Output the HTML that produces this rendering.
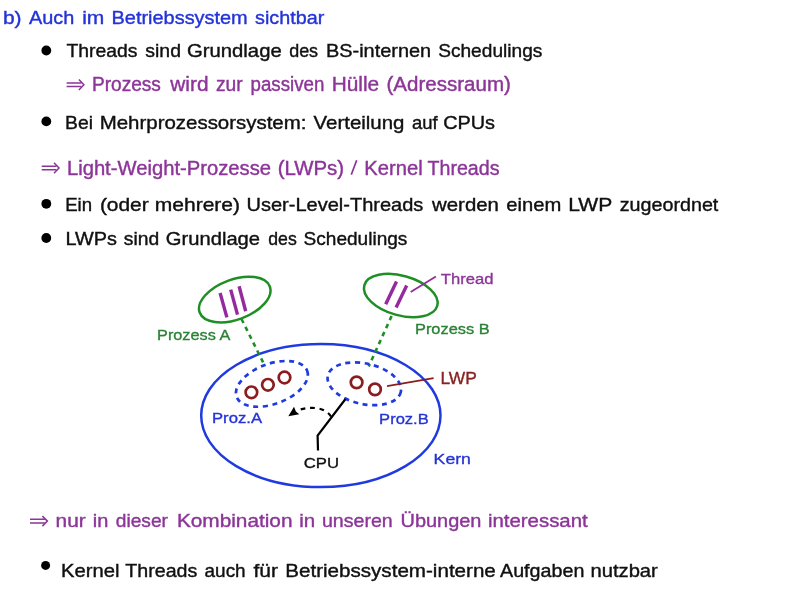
<!DOCTYPE html>
<html><head><meta charset="utf-8">
<style>
html,body{margin:0;padding:0;background:#fff;width:792px;height:600px;overflow:hidden}
svg{display:block;will-change:transform}
text{font-family:"Liberation Sans",sans-serif;stroke-width:0.4px}
.blue{fill:#2433d8;stroke:#2433d8}
.blk{fill:#101010;stroke:#101010}
.pur{fill:#8c3598;stroke:#8c3598}
.grn{fill:#2a8236;stroke:#2a8236}
.red{fill:#8a2222;stroke:#8a2222}
text.lab{stroke-width:0.35px}
</style></head><body>
<svg width="792" height="600" viewBox="0 0 792 600">
<g fill="#000">
<circle cx="46.3" cy="50.5" r="4.9"/>
<circle cx="46.3" cy="121.4" r="4.9"/>
<circle cx="46.3" cy="203.8" r="4.9"/>
<circle cx="46.3" cy="238" r="4.9"/>
<circle cx="45.6" cy="565.4" r="4.5"/>
</g>
<g fill="none" stroke="#8c3598" stroke-width="1.5" stroke-linecap="butt" stroke-linejoin="miter"><path d="M66.60,82.90H81.40M66.60,86.50H81.40"/><path d="M78.90,79.50L83.90,84.70L78.90,89.90"/></g>
<g fill="none" stroke="#8c3598" stroke-width="1.5" stroke-linecap="butt" stroke-linejoin="miter"><path d="M41.70,166.20H56.50M41.70,169.80H56.50"/><path d="M54.00,162.80L59.00,168.00L54.00,173.20"/></g>
<g fill="none" stroke="#8c3598" stroke-width="1.5" stroke-linecap="butt" stroke-linejoin="miter"><path d="M30.00,519.30H44.90M30.00,522.90H44.90"/><path d="M42.40,516.10L47.40,521.10L42.40,526.10"/></g>
<line x1="351.3" y1="174.6" x2="356.7" y2="160.2" stroke="#8c3598" stroke-width="1.7"/>
<text class="blue" x="2.91" y="23.6" font-size="19" textLength="18.68" lengthAdjust="spacingAndGlyphs">b)</text>
<text class="blue" x="29.00" y="23.6" font-size="19" textLength="45.33" lengthAdjust="spacingAndGlyphs">Auch</text>
<text class="blue" x="82.15" y="23.6" font-size="19" textLength="22.17" lengthAdjust="spacingAndGlyphs">im</text>
<text class="blue" x="111.55" y="23.6" font-size="19" textLength="136.17" lengthAdjust="spacingAndGlyphs">Betriebssystem</text>
<text class="blue" x="255.05" y="23.6" font-size="19" textLength="69.21" lengthAdjust="spacingAndGlyphs">sichtbar</text>
<text class="blk" x="66.45" y="56.5" font-size="19" textLength="71.00" lengthAdjust="spacingAndGlyphs">Threads</text>
<text class="blk" x="145.30" y="56.5" font-size="19" textLength="35.68" lengthAdjust="spacingAndGlyphs">sind</text>
<text class="blk" x="186.98" y="56.5" font-size="19" textLength="94.75" lengthAdjust="spacingAndGlyphs">Grundlage</text>
<text class="blk" x="289.15" y="56.5" font-size="19" textLength="28.96" lengthAdjust="spacingAndGlyphs">des</text>
<text class="blk" x="326.00" y="56.5" font-size="19" textLength="105.11" lengthAdjust="spacingAndGlyphs">BS-internen</text>
<text class="blk" x="438.19" y="56.5" font-size="19" textLength="104.14" lengthAdjust="spacingAndGlyphs">Schedulings</text>
<text class="pur" x="91.92" y="90.6" font-size="19.5" textLength="69.02" lengthAdjust="spacingAndGlyphs">Prozess</text>
<text class="pur" x="170.33" y="90.6" font-size="19.5" textLength="38.16" lengthAdjust="spacingAndGlyphs">wird</text>
<text class="pur" x="216.00" y="90.6" font-size="19.5" textLength="26.69" lengthAdjust="spacingAndGlyphs">zur</text>
<text class="pur" x="250.59" y="90.6" font-size="19.5" textLength="73.79" lengthAdjust="spacingAndGlyphs">passiven</text>
<text class="pur" x="331.69" y="90.6" font-size="19.5" textLength="47.42" lengthAdjust="spacingAndGlyphs">Hülle</text>
<text class="pur" x="386.50" y="90.6" font-size="19.5" textLength="124.32" lengthAdjust="spacingAndGlyphs">(Adressraum)</text>
<text class="blk" x="65.08" y="128.8" font-size="19" textLength="27.89" lengthAdjust="spacingAndGlyphs">Bei</text>
<text class="blk" x="99.72" y="128.8" font-size="19" textLength="206.74" lengthAdjust="spacingAndGlyphs">Mehrprozessorsystem:</text>
<text class="blk" x="313.55" y="128.8" font-size="19" textLength="90.85" lengthAdjust="spacingAndGlyphs">Verteilung</text>
<text class="blk" x="411.90" y="128.8" font-size="19" textLength="25.64" lengthAdjust="spacingAndGlyphs">auf</text>
<text class="blk" x="443.15" y="128.8" font-size="19" textLength="51.90" lengthAdjust="spacingAndGlyphs">CPUs</text>
<text class="pur" x="66.91" y="174.5" font-size="19.5" textLength="204.08" lengthAdjust="spacingAndGlyphs">Light-Weight-Prozesse</text>
<text class="pur" x="277.65" y="174.5" font-size="19.5" textLength="66.42" lengthAdjust="spacingAndGlyphs">(LWPs)</text>
<text class="pur" x="364.32" y="174.5" font-size="19.5" textLength="58.32" lengthAdjust="spacingAndGlyphs">Kernel</text>
<text class="pur" x="427.50" y="174.5" font-size="19.5" textLength="71.95" lengthAdjust="spacingAndGlyphs">Threads</text>
<text class="blk" x="65.17" y="210.5" font-size="19" textLength="26.94" lengthAdjust="spacingAndGlyphs">Ein</text>
<text class="blk" x="99.90" y="210.5" font-size="19" textLength="48.80" lengthAdjust="spacingAndGlyphs">(oder</text>
<text class="blk" x="154.84" y="210.5" font-size="19" textLength="85.20" lengthAdjust="spacingAndGlyphs">mehrere)</text>
<text class="blk" x="246.45" y="210.5" font-size="19" textLength="176.96" lengthAdjust="spacingAndGlyphs">User-Level-Threads</text>
<text class="blk" x="432.05" y="210.5" font-size="19" textLength="66.85" lengthAdjust="spacingAndGlyphs">werden</text>
<text class="blk" x="506.30" y="210.5" font-size="19" textLength="55.00" lengthAdjust="spacingAndGlyphs">einem</text>
<text class="blk" x="568.21" y="210.5" font-size="19" textLength="44.12" lengthAdjust="spacingAndGlyphs">LWP</text>
<text class="blk" x="619.75" y="210.5" font-size="19" textLength="98.58" lengthAdjust="spacingAndGlyphs">zugeordnet</text>
<text class="blk" x="65.51" y="245" font-size="19" textLength="51.42" lengthAdjust="spacingAndGlyphs">LWPs</text>
<text class="blk" x="123.85" y="245" font-size="19" textLength="35.37" lengthAdjust="spacingAndGlyphs">sind</text>
<text class="blk" x="165.85" y="245" font-size="19" textLength="94.21" lengthAdjust="spacingAndGlyphs">Grundlage</text>
<text class="blk" x="268.27" y="245" font-size="19" textLength="28.53" lengthAdjust="spacingAndGlyphs">des</text>
<text class="blk" x="303.55" y="245" font-size="19" textLength="103.84" lengthAdjust="spacingAndGlyphs">Schedulings</text>
<text class="pur" x="55.60" y="527.4" font-size="19" textLength="30.11" lengthAdjust="spacingAndGlyphs">nur</text>
<text class="pur" x="92.70" y="527.4" font-size="19" textLength="15.59" lengthAdjust="spacingAndGlyphs">in</text>
<text class="pur" x="115.75" y="527.4" font-size="19" textLength="52.25" lengthAdjust="spacingAndGlyphs">dieser</text>
<text class="pur" x="176.91" y="527.4" font-size="19" textLength="115.58" lengthAdjust="spacingAndGlyphs">Kombination</text>
<text class="pur" x="299.32" y="527.4" font-size="19" textLength="15.94" lengthAdjust="spacingAndGlyphs">in</text>
<text class="pur" x="321.92" y="527.4" font-size="19" textLength="70.82" lengthAdjust="spacingAndGlyphs">unseren</text>
<text class="pur" x="400.50" y="527.4" font-size="19" textLength="80.93" lengthAdjust="spacingAndGlyphs">Übungen</text>
<text class="pur" x="487.93" y="527.4" font-size="19" textLength="99.82" lengthAdjust="spacingAndGlyphs">interessant</text>
<text class="blk" x="61.04" y="576.5" font-size="19" textLength="58.45" lengthAdjust="spacingAndGlyphs">Kernel</text>
<text class="blk" x="125.35" y="576.5" font-size="19" textLength="71.99" lengthAdjust="spacingAndGlyphs">Threads</text>
<text class="blk" x="204.55" y="576.5" font-size="19" textLength="41.10" lengthAdjust="spacingAndGlyphs">auch</text>
<text class="blk" x="253.47" y="576.5" font-size="19" textLength="24.46" lengthAdjust="spacingAndGlyphs">für</text>
<text class="blk" x="285.22" y="576.5" font-size="19" textLength="210.61" lengthAdjust="spacingAndGlyphs">Betriebssystem-interne</text>
<text class="blk" x="500.00" y="576.5" font-size="19" textLength="84.37" lengthAdjust="spacingAndGlyphs">Aufgaben</text>
<text class="blk" x="590.44" y="576.5" font-size="19" textLength="67.40" lengthAdjust="spacingAndGlyphs">nutzbar</text>
<text class="pur lab" x="440.75" y="283.7" font-size="15.5" textLength="52.63" lengthAdjust="spacingAndGlyphs">Thread</text>
<text class="grn lab" x="157.05" y="340" font-size="15.5" textLength="73.22" lengthAdjust="spacingAndGlyphs">Prozess A</text>
<text class="grn lab" x="414.99" y="333.6" font-size="15.5" textLength="74.63" lengthAdjust="spacingAndGlyphs">Prozess B</text>
<text class="red lab" x="440.41" y="384" font-size="16" textLength="36.41" lengthAdjust="spacingAndGlyphs">LWP</text>
<text class="blue lab" x="211.97" y="422.9" font-size="15.5" textLength="50.05" lengthAdjust="spacingAndGlyphs">Proz.A</text>
<text class="blue lab" x="379.13" y="424" font-size="15.5" textLength="49.62" lengthAdjust="spacingAndGlyphs">Proz.B</text>
<text class="blk lab" x="303.75" y="467.5" font-size="15.5" textLength="35.29" lengthAdjust="spacingAndGlyphs">CPU</text>
<text class="blue lab" x="433.61" y="464.2" font-size="15.5" textLength="37.29" lengthAdjust="spacingAndGlyphs">Kern</text>
<ellipse cx="320.85" cy="415.6" rx="119.65" ry="71.5" fill="none" stroke="#1f3be0" stroke-width="2.5"/>
<g fill="none" stroke="#1f8f25" stroke-width="2.5">
<ellipse cx="234.75" cy="299.55" rx="37.4" ry="20" transform="rotate(-20.35 234.75 299.55)"/>
<ellipse cx="400.8" cy="295.55" rx="37.9" ry="19.8" transform="rotate(15.65 400.8 295.55)"/>
</g>
<g stroke="#952a9e" stroke-width="3.4" stroke-linecap="butt">
<line x1="220.1" y1="293" x2="226.9" y2="317.4"/>
<line x1="230.7" y1="289.6" x2="237.5" y2="314.6"/>
<line x1="239.1" y1="286.2" x2="245.7" y2="311.2"/>
<line x1="396.5" y1="281.5" x2="385.7" y2="304.2"/>
<line x1="406.7" y1="285.5" x2="396.1" y2="307.6"/>
</g>
<line x1="410.7" y1="292" x2="435.9" y2="276.4" stroke="#952a9e" stroke-width="1.8"/>
<g stroke="#1f8f25" stroke-width="2.6" stroke-dasharray="4.5 4.3" fill="none">
<line x1="241.5" y1="319" x2="264" y2="364.2"/>
<line x1="391.6" y1="316" x2="368.7" y2="366.5"/>
</g>
<g stroke="#1f3be0" stroke-width="2.7" stroke-dasharray="5 4.6" fill="none">
<ellipse cx="271.9" cy="383.85" rx="37.6" ry="20.1" transform="rotate(-20.2 271.9 383.85)"/>
<ellipse cx="364.3" cy="383.8" rx="37.4" ry="20.3" transform="rotate(12.55 364.3 383.8)"/>
</g>
<g stroke="#8a1e1e" stroke-width="2.7" fill="none">
<circle cx="251.4" cy="392.3" r="5.8"/>
<circle cx="267.9" cy="384.8" r="5.8"/>
<circle cx="284.5" cy="377.5" r="5.8"/>
<circle cx="356.6" cy="382.4" r="5.8"/>
<circle cx="375" cy="389.4" r="5.8"/>
</g>
<line x1="387" y1="386.1" x2="433.6" y2="378.2" stroke="#8a1e1e" stroke-width="1.7"/>
<polyline points="318,450.5 317.6,435.5 345.5,399" fill="none" stroke="#000" stroke-width="2.2"/>
<path d="M331,416.5 C326,408.5 314,405.8 300,409.6" fill="none" stroke="#000" stroke-width="2.2" stroke-dasharray="4.6 4.9"/>
<path d="M288.3,416.2 L294,406.7 L295.9,411.6 L299.3,414.3 Z" fill="#000"/>

</svg>
</body></html>
